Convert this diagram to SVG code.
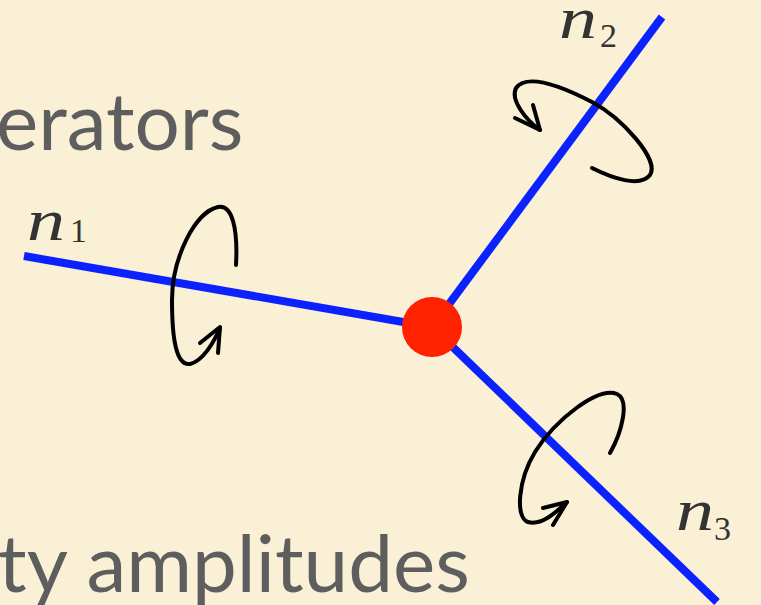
<svg xmlns="http://www.w3.org/2000/svg" width="761" height="605" viewBox="0 0 761 605">
<style>
.big{font-family:"Lato","Liberation Sans",sans-serif;fill:#5e5e5e}
.lbl{font-family:"Liberation Serif",serif;font-style:italic;fill:#333}
.sub{font-family:"Liberation Serif",serif;fill:#333}
.axis{stroke:#0b22ff;stroke-width:8;fill:none;stroke-linecap:butt}
.rot{stroke:#000;stroke-width:4;fill:none;stroke-linecap:round;stroke-linejoin:round}
</style>
<rect width="761" height="605" fill="#f9f0d6"/>
<text class="big" x="-4" y="150" font-size="80">erators</text>
<text class="big" x="-2" y="592" font-size="80">ty amplitudes</text>
<g id="connectors">
<line class="axis" x1="24" y1="256" x2="432" y2="327"/>
<line class="axis" x1="432" y1="327" x2="662" y2="17"/>
<line class="axis" x1="432" y1="327" x2="717" y2="602"/>
</g>
<g id="rot1">
<path class="rot" d="M236,265 C238,228 232,204 218,207 C195,212 172,258 172,300 C172,338 176,366 190,364 C203,361 214,342 220,328"/>
<path class="rot" d="M200,343 L220,327 L218,353"/>
</g>
<g id="rot2">
<path class="rot" d="M592,168 C612,178 640,188 650,175 C660,160 622,118 592,102 C565,88 528,72 516,88 C510,100 526,120 540,130"/>
<path class="rot" d="M515,118 L540,130 L533,105"/>
</g>
<g id="rot3">
<path class="rot" d="M610,453 C622,432 630,400 617,394 C598,386 555,420 535,452 C518,480 515,518 528,522 C542,526 556,512 567,502"/>
<path class="rot" d="M543,508 L567,502 L553,525"/>
</g>
<g id="center"><circle cx="432" cy="327" r="30" fill="#ff2200"/></g>
<g id="n1"><text class="lbl" x="27" y="240" font-size="60" textLength="38" lengthAdjust="spacingAndGlyphs">n</text><text class="sub" x="70" y="242" font-size="34">1</text></g>
<g id="n2"><text class="lbl" x="559" y="38" font-size="60" textLength="38" lengthAdjust="spacingAndGlyphs">n</text><text class="sub" x="600" y="47" font-size="34">2</text></g>
<g id="n3"><text class="lbl" x="676" y="530" font-size="60" textLength="38" lengthAdjust="spacingAndGlyphs">n</text><text class="sub" x="714" y="540" font-size="34">3</text></g>
</svg>
